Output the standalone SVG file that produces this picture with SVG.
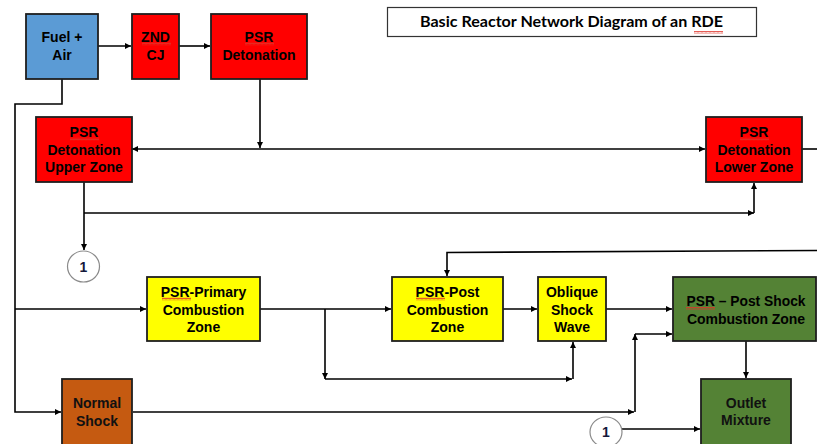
<svg xmlns="http://www.w3.org/2000/svg" width="817" height="444" viewBox="0 0 817 444">
  <defs>
    <marker id="arrow" viewBox="0 0 10 10" refX="10" refY="5" markerWidth="6" markerHeight="6" markerUnits="userSpaceOnUse" orient="auto">
      <path d="M0,0 L10,5 L0,10 Z" fill="#000"/>
    </marker>
    <marker id="arrow-start" viewBox="0 0 10 10" refX="0" refY="5" markerWidth="6" markerHeight="6" markerUnits="userSpaceOnUse" orient="auto">
      <path d="M10,0 L0,5 L10,10 Z" fill="#000"/>
    </marker>
    <pattern id="squiggle" x="0" y="0" width="4" height="3" patternUnits="userSpaceOnUse">
      <path d="M0,2.5 L1,0.5 L2,2.5 L3,0.5 L4,2.5" fill="none" stroke="#e0332a" stroke-width="0.8"/>
    </pattern>
    <style>
      .box { stroke: #1e1e1e; stroke-width: 1.8; }
      .blue { fill: #5b9bd5; }
      .red { fill: #ff0000; }
      .yellow { fill: #ffff00; }
      .green { fill: #548235; }
      .orange { fill: #c55a11; }
      .label { font-family: "Liberation Sans", Arial, sans-serif; font-weight: bold; font-size: 14px; fill: #000; text-anchor: middle; }
      .dark { fill: #111; }
      .wire { fill: none; stroke: #000; stroke-width: 1.6; }
      .arr { marker-end: url(#arrow); }
      .tag { fill: #fff; stroke: #8a8a8a; stroke-width: 1.2; }
      .tagtext { font-family: "Liberation Sans", Arial, sans-serif; font-weight: bold; font-size: 14px; fill: #14183a; text-anchor: middle; }
      .spell { fill: url(#squiggle); }
    </style>
  </defs>

  <rect width="817" height="444" fill="#fff"/>

  <!-- title -->
  <g id="title">
    <rect x="387.5" y="7.5" width="369" height="29" fill="#fff" stroke="#333" stroke-width="1.2"/>
    <text x="571.5" y="27" font-family="Lato, 'Open Sans', sans-serif" font-weight="bold" font-size="15.5" text-anchor="middle" textLength="303" lengthAdjust="spacingAndGlyphs" fill="#000">Basic Reactor Network Diagram of an RDE</text>
    <rect class="spell" x="694" y="31" width="29" height="3"/>
  </g>

  <!-- connectors -->
  <g id="connectors">
    <path class="wire arr" d="M98,46 H131"/>
    <path class="wire arr" d="M179,46 H210"/>
    <path class="wire arr" d="M62,79 V104 H15 V412 H61"/>
    <path class="wire arr" d="M15,309 H146"/>
    <path class="wire arr" d="M260,79 V148"/>
    <path class="wire arr" d="M132,149 H705" marker-start="url(#arrow-start)"/>
    <path class="wire" d="M802,149 H817"/>
    <path class="wire arr" d="M84,182 V250"/>
    <path class="wire arr" d="M84,213 H754"/>
    <path class="wire arr" d="M754,213 V183"/>
    <path class="wire arr" d="M260,309 H391"/>
    <path class="wire arr" d="M325,309 V379"/>
    <path class="wire arr" d="M325,379 H572"/>
    <path class="wire arr" d="M573,379 V342"/>
    <path class="wire arr" d="M503,309 H537"/>
    <path class="wire arr" d="M606,309 H672"/>
    <path class="wire arr" d="M817,250.5 L447,252.5 V276"/>
    <path class="wire arr" d="M133,412 H634"/>
    <path class="wire arr" d="M635,412 V334"/>
    <path class="wire arr" d="M635,334 H672"/>
    <path class="wire arr" d="M746,341 V378"/>
    <path class="wire arr" d="M622,429 H700"/>
  </g>

  <!-- nodes -->
  <g id="fuel-air">
    <rect class="box blue" x="26" y="14" width="72" height="65"/>
    <text class="label" x="62" y="42">Fuel +</text>
    <text class="label" x="62" y="60">Air</text>
  </g>

  <g id="znd-cj">
    <rect class="box red" x="132" y="14" width="47" height="65"/>
    <text class="label" x="155.5" y="42">ZND</text>
    <text class="label" x="155.5" y="60">CJ</text>
    <rect class="spell" x="142" y="42.5" width="29" height="3"/>
  </g>

  <g id="psr-detonation">
    <rect class="box red" x="211" y="14" width="96" height="65"/>
    <text class="label" x="259" y="42">PSR</text>
    <text class="label" x="259" y="60">Detonation</text>
    <rect class="spell" x="245" y="42.5" width="29" height="3"/>
  </g>

  <g id="psr-upper-zone">
    <rect class="box red" x="36" y="117" width="96" height="65"/>
    <text class="label" x="84" y="137">PSR</text>
    <text class="label" x="84" y="154.5">Detonation</text>
    <text class="label" x="84" y="172">Upper Zone</text>
    <rect class="spell" x="70" y="137.5" width="29" height="3"/>
  </g>

  <g id="psr-lower-zone">
    <rect class="box red" x="706" y="117" width="96" height="65"/>
    <text class="label" x="754" y="137">PSR</text>
    <text class="label" x="754" y="154.5">Detonation</text>
    <text class="label" x="754" y="172">Lower Zone</text>
    <rect class="spell" x="740" y="137.5" width="29" height="3"/>
  </g>

  <g id="tag-1-top">
    <ellipse class="tag" cx="83.5" cy="266.5" rx="16" ry="15.5"/>
    <text class="tagtext" x="83.5" y="271.5">1</text>
  </g>

  <g id="psr-primary">
    <rect class="box yellow" x="147" y="277" width="113" height="64"/>
    <text class="label" x="203.5" y="297">PSR-Primary</text>
    <text class="label" x="203.5" y="314.5">Combustion</text>
    <text class="label" x="203.5" y="332">Zone</text>
    <rect class="spell" x="162" y="297.5" width="29" height="3"/>
  </g>

  <g id="psr-post">
    <rect class="box yellow" x="392" y="277" width="111" height="64"/>
    <text class="label" x="447.5" y="297">PSR-Post</text>
    <text class="label" x="447.5" y="314.5">Combustion</text>
    <text class="label" x="447.5" y="332">Zone</text>
    <rect class="spell" x="416" y="297.5" width="29" height="3"/>
  </g>

  <g id="oblique-shock">
    <rect class="box yellow" x="538" y="277" width="68" height="64"/>
    <text class="label" x="572" y="297">Oblique</text>
    <text class="label" x="572" y="314.5">Shock</text>
    <text class="label" x="572" y="332">Wave</text>
  </g>

  <g id="psr-post-shock">
    <rect class="box green" x="673" y="277" width="143" height="64"/>
    <text class="label" x="746" y="306" textLength="119" lengthAdjust="spacingAndGlyphs">PSR – Post Shock</text>
    <text class="label" x="746" y="323.5" textLength="118" lengthAdjust="spacing">Combustion Zone</text>
    <rect class="spell" x="686" y="307" width="29" height="3"/>
  </g>

  <g id="normal-shock">
    <rect class="box orange" x="62" y="379" width="70" height="67"/>
    <text class="label dark" x="97" y="408">Normal</text>
    <text class="label dark" x="97" y="426">Shock</text>
  </g>

  <g id="outlet-mixture">
    <rect class="box green" x="701" y="379" width="90" height="67"/>
    <text class="label dark" x="746" y="408">Outlet</text>
    <text class="label dark" x="746" y="425">Mixture</text>
  </g>

  <g id="tag-1-bottom">
    <ellipse class="tag" cx="606" cy="432" rx="16" ry="15"/>
    <text class="tagtext" x="606" y="437">1</text>
  </g>
</svg>
